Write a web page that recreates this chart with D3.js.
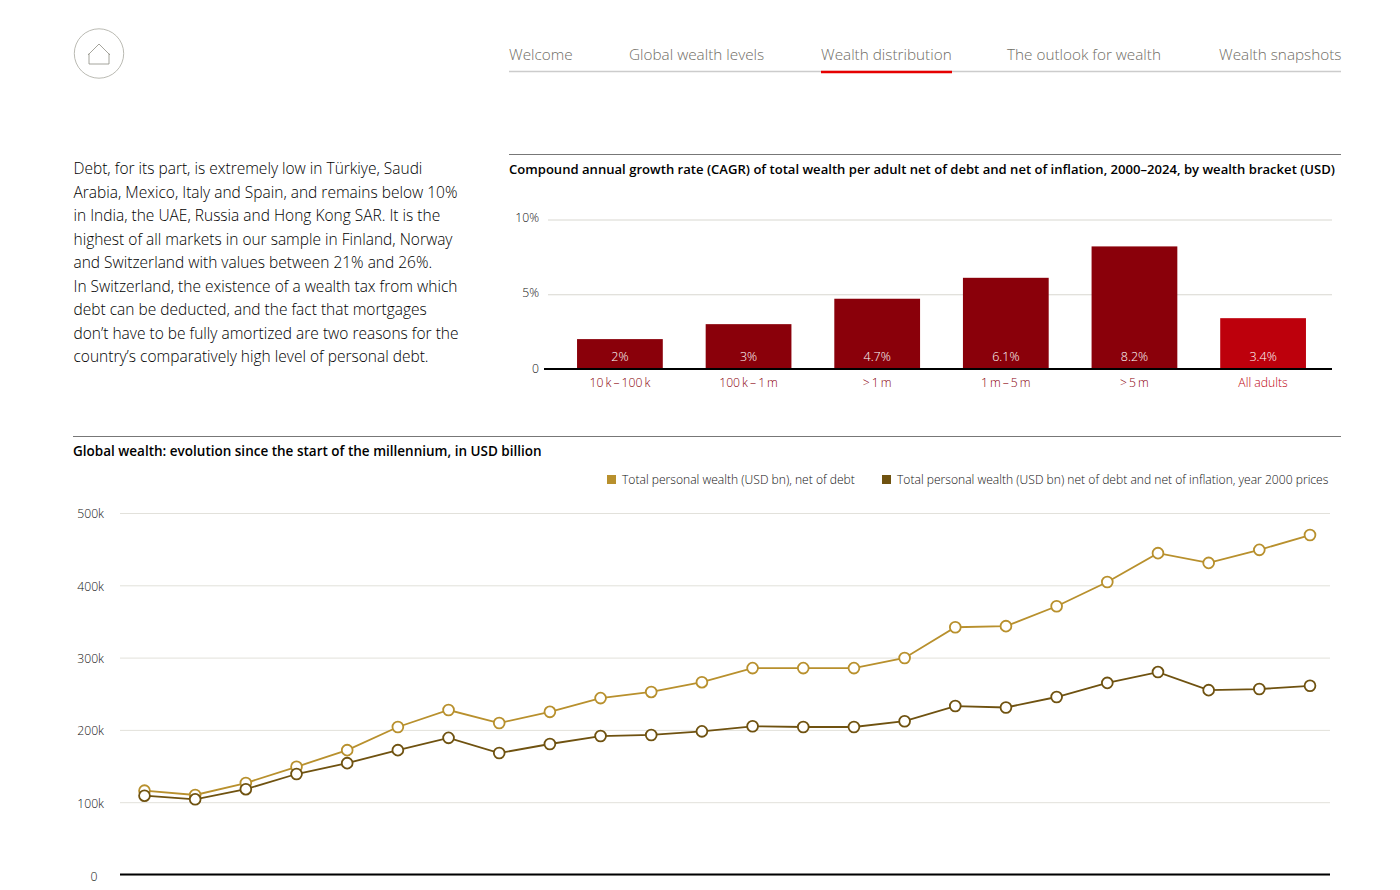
<!DOCTYPE html>
<meta charset="utf-8">
<style>
  html, body { margin: 0; padding: 0; background: #fff; }
  svg { display: block; font-family: "Open Sans", sans-serif; }
  .tick text { font-family: "Open Sans", sans-serif; font-size: 12.2px; fill: #111; font-weight: 300; }
</style>

<!-- Load d3.js -->
<script src="https://cdnjs.cloudflare.com/ajax/libs/d3/7.3.0/d3.min.js"></script>

<div id="my_dataviz"></div>

<script>

    // page text
    const navItems = ["Welcome", "Global wealth levels", "Wealth distribution", "The outlook for wealth", "Wealth snapshots"]
    const bodyLines = [
        "Debt, for its part, is extremely low in Türkiye, Saudi",
        "Arabia, Mexico, Italy and Spain, and remains below 10%",
        "in India, the UAE, Russia and Hong Kong SAR. It is the",
        "highest of all markets in our sample in Finland, Norway",
        "and Switzerland with values between 21% and 26%.",
        "In Switzerland, the existence of a wealth tax from which",
        "debt can be deducted, and the fact that mortgages",
        "don’t have to be fully amortized are two reasons for the",
        "country’s comparatively high level of personal debt."
    ]

    // bar chart data
    const barTitle = "Compound annual growth rate (CAGR) of total wealth per adult net of debt and net of inflation, 2000–2024, by wealth bracket (USD)"
    const brackets = ["10\u2009k\u2009–\u2009100\u2009k", "100\u2009k\u2009–\u20091\u2009m", ">\u20091\u2009m", "1\u2009m\u2009–\u20095\u2009m", ">\u20095\u2009m", "All adults"]
    const cagr = [2, 3, 4.7, 6.1, 8.2, 3.4]
    const cagrLabels = ["2%", "3%", "4.7%", "6.1%", "8.2%", "3.4%"]
    const cagrTicks = [0, 5, 10]

    // line chart data
    const lineTitle = "Global wealth: evolution since the start of the millennium, in USD billion"
    const years = d3.range(2000, 2024)
    const netOfDebt = [116, 110, 126.5, 149, 172, 204, 227.5, 209.5, 225, 244, 252.5, 266, 285.5, 285.5, 285.5, 299.5, 342, 343.5, 371, 404.5, 444.5, 431, 449, 469.5]
    const netOfInflation = [109, 104, 118, 139, 154, 172, 189, 168, 180.5, 191.5, 193, 198, 205, 204, 204, 212, 233, 231, 245.5, 265, 280, 255, 256.5, 261]
    const wealthTicks = [0, 100, 200, 300, 400, 500]
    const legendLabels = ["Total personal wealth (USD bn), net of debt", "Total personal wealth (USD bn) net of debt and net of inflation, year 2000 prices"]

    const gold = "#b8902d", brown = "#6f5210"

    var svg = d3.select("#my_dataviz")
        .append("svg")
        .attr("width", 1400)
        .attr("height", 890);

    // home button
    svg.append("circle")
        .attr("cx", 99).attr("cy", 53.5).attr("r", 24.7)
        .attr("fill", "none").attr("stroke", "#a8a8a0").attr("stroke-width", 0.8);
    svg.append("path")
        .attr("d", "M88 55 L99 44 L110 55 M89 53.5 V64 H109 V53.5")
        .attr("fill", "none").attr("stroke", "#8e8d83").attr("stroke-width", 0.8);

    // top navigation
    var navX = [509, 629, 821, 1007, 1219]
    svg.append("line")
        .attr("x1", 509).attr("x2", 1341).attr("y1", 71.5).attr("y2", 71.5)
        .attr("stroke", "#ccc").attr("stroke-width", 1.4);
    svg.append("line")
        .attr("x1", 821).attr("x2", 952).attr("y1", 72).attr("y2", 72)
        .attr("stroke", "#e60000").attr("stroke-width", 2.4);
    svg.selectAll(".nav").data(navItems).join("text")
        .attr("class", "nav")
        .attr("x", (d, i) => navX[i])
        .attr("y", 60)
        .attr("font-size", 15.3)
        .attr("font-weight", 300)
        .attr("fill", "#6f6d65")
        .text(d => d);

    // paragraph on the left
    svg.selectAll(".body").data(bodyLines).join("text")
        .attr("class", "body")
        .attr("x", 73.5)
        .attr("y", (d, i) => 174 + i * 23.5)
        .attr("font-size", 15.5)
        .attr("font-weight", 300)
        .attr("fill", "#000")
        .text(d => d);

    // ---- bar chart ----
    svg.append("line")
        .attr("x1", 509).attr("x2", 1341).attr("y1", 154.5).attr("y2", 154.5)
        .attr("stroke", "#777");
    svg.append("text")
        .attr("x", 509).attr("y", 174)
        .attr("font-size", 13.08).attr("font-weight", 600).attr("fill", "#000")
        .text(barTitle);

    var xBar = d3.scaleBand()
        .domain(brackets)
        .range([555.6, 1327.4])
        .paddingInner(1 / 3)
        .paddingOuter(1 / 6);
    var yBar = d3.scaleLinear()
        .domain([0, 10])
        .range([369, 219.5]);

    var barAxis = svg.append("g")
        .attr("transform", "translate(548,0)")
        .call(d3.axisLeft(yBar).tickValues(cagrTicks).tickSize(-784).tickPadding(9)
            .tickFormat(d => d === 0 ? "0" : d + "%"));
    barAxis.select(".domain").remove();
    barAxis.selectAll(".tick line").attr("stroke", "#d8d7d0");
    barAxis.selectAll(".tick text").attr("dy", d => d === 0 ? "0.32em" : "0.2em");

    svg.selectAll(".bar").data(brackets).join("rect")
        .attr("class", "bar")
        .attr("x", d => xBar(d))
        .attr("width", xBar.bandwidth())
        .attr("y", (d, i) => yBar(cagr[i]))
        .attr("height", (d, i) => yBar(0) - yBar(cagr[i]))
        .attr("fill", (d, i) => i === 5 ? "#bd000c" : "#8a000a");

    svg.selectAll(".barLabel").data(cagrLabels).join("text")
        .attr("class", "barLabel")
        .attr("x", (d, i) => xBar(brackets[i]) + xBar.bandwidth() / 2)
        .attr("y", 361)
        .attr("text-anchor", "middle")
        .attr("font-size", 12.5)
        .attr("font-weight", 300)
        .attr("fill", "#fff")
        .text(d => d);

    svg.selectAll(".bracket").data(brackets).join("text")
        .attr("class", "bracket")
        .attr("x", d => xBar(d) + xBar.bandwidth() / 2)
        .attr("y", 387)
        .attr("text-anchor", "middle")
        .attr("font-size", 12.2)
        .attr("font-weight", 300)
        .attr("fill", (d, i) => i === 5 ? "#bd000c" : "#8a000a")
        .text(d => d);

    svg.append("line")
        .attr("x1", 544).attr("x2", 1332).attr("y1", yBar(0)).attr("y2", yBar(0))
        .attr("stroke", "#000").attr("stroke-width", 1.8);

    // ---- line chart ----
    svg.append("line")
        .attr("x1", 73).attr("x2", 1341).attr("y1", 436.5).attr("y2", 436.5)
        .attr("stroke", "#777");
    svg.append("text")
        .attr("x", 73).attr("y", 456)
        .attr("font-size", 13.5).attr("font-weight", 600).attr("fill", "#000")
        .text(lineTitle);

    // legend
    var legendX = [607, 882]
    legendLabels.forEach(function (label, i) {
        svg.append("rect")
            .attr("x", legendX[i]).attr("y", 475)
            .attr("width", 9).attr("height", 9)
            .attr("fill", i === 0 ? gold : brown);
        svg.append("text")
            .attr("x", legendX[i] + 15).attr("y", 484)
            .attr("font-size", 12.1).attr("font-weight", 300).attr("fill", "#111")
            .text(label);
    });

    var xLine = d3.scalePoint()
        .domain(years)
        .range([144.5, 1310]);
    var yLine = d3.scaleLinear()
        .domain([0, 500])
        .range([874.5, 513]);

    var lineAxis = svg.append("g")
        .attr("transform", "translate(120,0)")
        .call(d3.axisLeft(yLine).tickValues(wealthTicks).tickSize(-1210).tickPadding(16)
            .tickFormat(d => d === 0 ? "0" : d + "k"));
    lineAxis.select(".domain").remove();
    lineAxis.selectAll(".tick line").attr("stroke", "#e2e1db");
    lineAxis.selectAll(".tick text").attr("dy", "0.4em");
    // the zero sits a bit further left and lower than the k labels
    lineAxis.selectAll(".tick text").filter(d => d === 0).attr("dx", -6.5).attr("dy", "0.5em");

    svg.append("line")
        .attr("x1", 120).attr("x2", 1330).attr("y1", yLine(0)).attr("y2", yLine(0))
        .attr("stroke", "#000").attr("stroke-width", 1.8);

    var line = d3.line()
        .x((d, i) => xLine(years[i]))
        .y(d => yLine(d));

    ;[[netOfDebt, gold], [netOfInflation, brown]].forEach(function (s) {
        svg.append("path")
            .datum(s[0])
            .attr("fill", "none")
            .attr("stroke", s[1])
            .attr("stroke-width", 1.8)
            .attr("d", line);
        svg.append("g").selectAll("circle").data(s[0]).join("circle")
            .attr("cx", (d, i) => xLine(years[i]))
            .attr("cy", d => yLine(d))
            .attr("r", 5.4)
            .attr("fill", "#fff")
            .attr("stroke", s[1])
            .attr("stroke-width", 1.8);
    });

</script>
